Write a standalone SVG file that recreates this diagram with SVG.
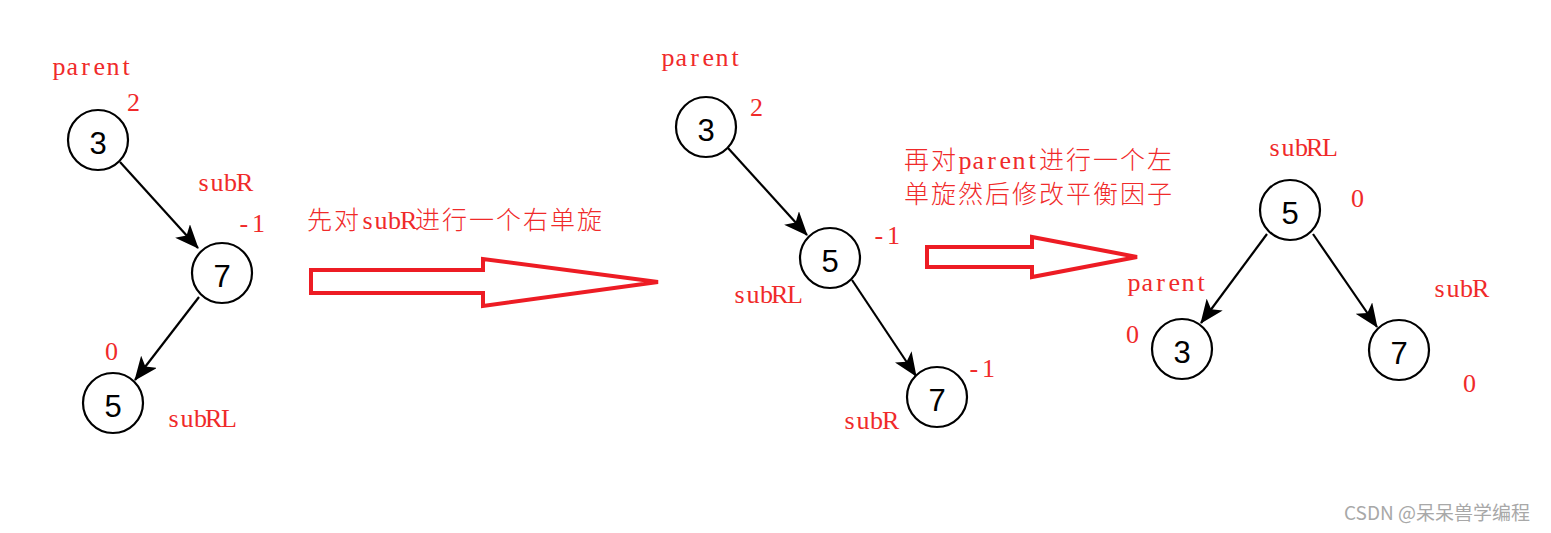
<svg xmlns="http://www.w3.org/2000/svg" width="1551" height="533" viewBox="0 0 1551 533">
<style>
.nd circle{fill:#fff;stroke:#000;stroke-width:2.2}
.nd text{font-family:"Liberation Sans",Arial,sans-serif;font-size:31px;fill:#000;text-anchor:middle}
.lbl{font-family:"Liberation Serif","Noto Sans CJK SC",serif;font-size:26px;fill:#f02a2a}
.cj{font-family:"Noto Sans CJK SC",sans-serif;font-size:25px;font-weight:300;letter-spacing:2px}
.edge{stroke:#000;stroke-width:2.2;fill:none;marker-end:url(#ah)}
.big{fill:#fff;stroke:#ed1c24;stroke-width:4;stroke-linejoin:miter}
.wm{font-family:"Noto Sans CJK SC","Liberation Sans",sans-serif;font-size:19px;fill:#a8a8a8}
</style>
<defs>
<marker id="ah" markerUnits="userSpaceOnUse" viewBox="0 0 24 20" refX="23" refY="10" markerWidth="24" markerHeight="20" orient="auto">
<path d="M0,0 L24,10 L0,20 L6,10 Z" fill="#000"/>
</marker>
</defs>
<rect width="1551" height="533" fill="#fff"/>

<g id="connectors">
<line class="edge" x1="120" y1="162" x2="198" y2="248"/>
<line class="edge" x1="199" y1="297" x2="135" y2="380"/>
<line class="edge" x1="728" y1="148" x2="807" y2="235"/>
<line class="edge" x1="852" y1="280" x2="916" y2="376"/>
<line class="edge" x1="1267" y1="234" x2="1201" y2="323"/>
<line class="edge" x1="1313" y1="234" x2="1377" y2="327"/>
<polygon class="big" points="311,270 483,270 483,259 658,282 483,306 483,293 311,293"/>
<polygon class="big" points="927,247 1032,247 1032,237 1137,257 1032,277 1032,267 927,267"/>
</g>

<g id="t1-n3" class="nd"><circle cx="98" cy="140" r="30"/><text x="98" y="154">3</text></g>
<g id="t1-n7" class="nd"><circle cx="222" cy="273" r="30"/><text x="222" y="287">7</text></g>
<g id="t1-n5" class="nd"><circle cx="113" cy="403" r="30"/><text x="113" y="417">5</text></g>

<g id="t2-n3" class="nd"><circle cx="706" cy="127" r="30"/><text x="706" y="141">3</text></g>
<g id="t2-n5" class="nd"><circle cx="830" cy="258" r="30"/><text x="830" y="272">5</text></g>
<g id="t2-n7" class="nd"><circle cx="937" cy="397" r="30"/><text x="937" y="411">7</text></g>

<g id="t3-n5" class="nd"><circle cx="1290" cy="210" r="30"/><text x="1290" y="224">5</text></g>
<g id="t3-n3" class="nd"><circle cx="1182" cy="349" r="30"/><text x="1182" y="363">3</text></g>
<g id="t3-n7" class="nd"><circle cx="1399" cy="350" r="30"/><text x="1399" y="364">7</text></g>

<g id="labels">
<text class="lbl" x="52.5 66.5 81.3 93.5 106.5 122.6" y="75">parent</text>
<text class="lbl" x="127" y="111">2</text>
<text class="lbl" x="198.5 210.5 224 236" y="191">subR</text>
<text class="lbl" x="239.5 252" y="232">-1</text>
<text class="lbl" x="105" y="360">0</text>
<text class="lbl" x="168.5 180.5 194 205 221" y="427">subRL</text>

<text class="lbl" y="229"><tspan class="cj" x="307">先对</tspan><tspan x="362.5 374.5 388 400">subR</tspan><tspan class="cj" x="415">进行一个右单旋</tspan></text>

<text class="lbl" x="661.5 675.5 690.3 702.5 715.5 731.6" y="66">parent</text>
<text class="lbl" x="750" y="116">2</text>
<text class="lbl" x="874.5 887" y="244">-1</text>
<text class="lbl" x="734.5 746.5 760 771 787" y="303">subRL</text>
<text class="lbl" x="969.5 982" y="377">-1</text>
<text class="lbl" x="844.5 856.5 870 882" y="429">subR</text>

<text class="lbl" y="169"><tspan class="cj" x="904">再对</tspan><tspan x="958.5 972.5 987.3 999.5 1012.5 1028.6">parent</tspan><tspan class="cj" x="1039">进行一个左</tspan></text>
<text class="lbl" x="904" y="203"><tspan class="cj">单旋然后修改平衡因子</tspan></text>

<text class="lbl" x="1269.5 1281.5 1295 1306 1322" y="156">subRL</text>
<text class="lbl" x="1351" y="207">0</text>
<text class="lbl" x="1127.5 1141.5 1156.3 1168.5 1181.5 1197.6" y="291">parent</text>
<text class="lbl" x="1126" y="343">0</text>
<text class="lbl" x="1434.5 1446.5 1460 1472" y="297">subR</text>
<text class="lbl" x="1463" y="392">0</text>
</g>

<text class="wm" x="1344" y="520">CSDN @呆呆兽学编程</text>
</svg>
